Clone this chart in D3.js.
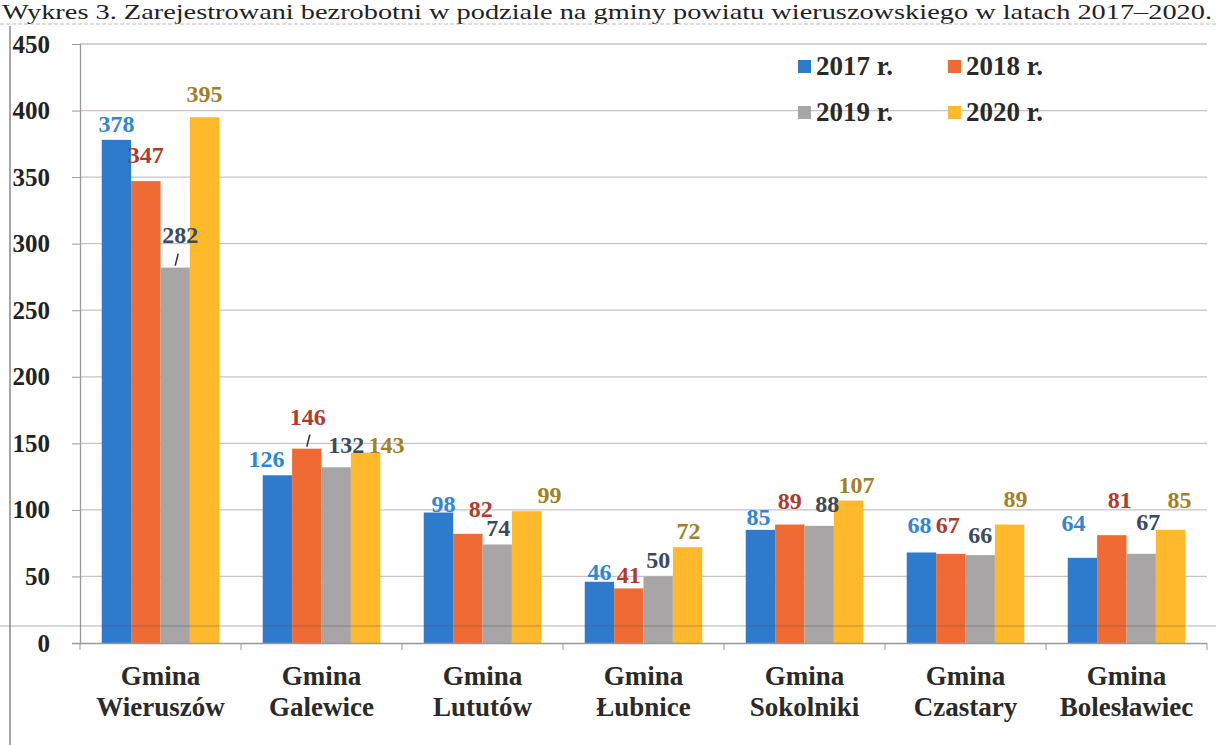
<!DOCTYPE html>
<html>
<head>
<meta charset="utf-8">
<script src="https://cdn.jsdelivr.net/npm/d3@7"></script>
<style>
  body { margin: 0; background: #fff; }
  svg { display: block; font-family: "Liberation Serif", "DejaVu Serif", serif; }
</style>
</head>
<body>
<div id="chart"></div>
<script>
const gminy = ["Gmina|Wieruszów", "Gmina|Galewice", "Gmina|Lututów", "Gmina|Łubnice",
               "Gmina|Sokolniki", "Gmina|Czastary", "Gmina|Bolesławiec"]
const years = ["2017 r.", "2018 r.", "2019 r.", "2020 r."]
const v2017 = [378, 126, 98, 46, 85, 68, 64]
const v2018 = [347, 146, 82, 41, 89, 67, 81]
const v2019 = [282, 132, 74, 50, 88, 66, 67]
const v2020 = [395, 143, 99, 72, 107, 89, 85]
const yTicks = [0, 50, 100, 150, 200, 250, 300, 350, 400, 450]

const BAR_COLORS = ["#2e7bce", "#ef6b33", "#a7a5a6", "#ffb92a"]
const LABEL_COLORS = ["#2f86d8", "#b3392d", "#3a4a60", "#a37f28"]

// label nudges [dx, dy] per series/category, so labels sit like in the original
const nudge = [
  [[0,0],[-11,0],[5,7],[0,6],[-2,3],[-2,-11],[-9,-19]],
  [[0,-10],[1,-16],[13,-9],[0,3],[0,-8],[-3,-13],[8,-19]],
  [[5,-17],[10,-6],[1,0],[0,0],[8,-6],[0,-4],[7,-16]],
  [[0,-7],[21,8],[23,0],[1,0],[8,0],[6,-10],[9,-14]]
]
const leaders = [[2,0],[1,1]] // [series, category] with a small leader line

const W = 1216, H = 745
const svg = d3.select("#chart").append("svg").attr("width", W).attr("height", H)

const series = [v2017, v2018, v2019, v2020]
const x0 = d3.scaleBand().domain(gminy).range([80, 1207]).paddingInner(0.27).paddingOuter(0.135)
const x1 = d3.scaleBand().domain(d3.range(4)).range([0, x0.bandwidth()])
const y = d3.scaleLinear().domain([0, 450]).range([643, 44])

// title
svg.append("text").attr("x", 2).attr("y", 19).attr("font-size", 22)
  .attr("textLength", 1210).attr("lengthAdjust", "spacingAndGlyphs").attr("fill", "#222")
  .text("Wykres 3. Zarejestrowani bezrobotni w podziale na gminy powiatu wieruszowskiego w latach 2017–2020.")
svg.append("line").attr("x1", 0).attr("x2", W).attr("y1", 24).attr("y2", 24)
  .attr("stroke", "#c8b8bc").attr("stroke-dasharray", "4,2").attr("stroke-width", 1)
svg.append("line").attr("x1", 10).attr("x2", 10).attr("y1", 26).attr("y2", H)
  .attr("stroke", "#8a8a8a").attr("stroke-width", 1.5)

// gridlines
svg.append("g").selectAll("line").data(yTicks.slice(1)).join("line")
  .attr("x1", 80).attr("x2", 1207).attr("y1", d => y(d)).attr("y2", d => y(d))
  .attr("stroke", "#c9c2c8").attr("stroke-width", 1.3)

// y axis
const yAxis = svg.append("g").attr("transform", "translate(80,0)")
  .call(d3.axisLeft(y).tickValues(yTicks).tickSize(8).tickPadding(22))
yAxis.select(".domain").attr("stroke", "#999").attr("stroke-width", 1.3)
yAxis.selectAll(".tick line").attr("stroke", "#999")
yAxis.selectAll("text").attr("font-size", 25).attr("font-weight", "bold")
  .attr("fill", "#222").attr("font-family", "Liberation Serif")
yAxis.select(".domain").attr("d", "M-8,643.5H0.5V44")

// bars
const groups = svg.append("g").selectAll("g").data(gminy).join("g")
  .attr("transform", d => `translate(${x0(d)},0)`)
groups.selectAll("rect").data((d, i) => series.map((s, k) => ({k, i, v: s[i]}))).join("rect")
  .attr("x", d => x1(d.k)).attr("width", x1.bandwidth())
  .attr("y", d => y(d.v)).attr("height", d => y(0) - y(d.v))
  .attr("fill", d => BAR_COLORS[d.k])

// x axis line + ticks at band edges
svg.append("line").attr("x1", 80).attr("x2", 1207).attr("y1", 643.5).attr("y2", 643.5)
  .attr("stroke", "#999").attr("stroke-width", 1.3)
svg.append("g").selectAll("line").data(d3.range(8)).join("line")
  .attr("x1", d => 80 + d * x0.step()).attr("x2", d => 80 + d * x0.step())
  .attr("y1", 643).attr("y2", 650).attr("stroke", "#999")

// category labels
svg.append("g").selectAll("text").data(gminy).join("text")
  .attr("x", d => x0(d) + x0.bandwidth() / 2).attr("y", 685)
  .attr("text-anchor", "middle").attr("font-size", 27).attr("font-weight", "bold").attr("fill", "#2a2a2a")
  .each(function(d) {
    const parts = d.split("|")
    d3.select(this).selectAll("tspan").data(parts).join("tspan")
      .attr("x", x0(d) + x0.bandwidth() / 2).attr("dy", (p, j) => j ? 31 : 0).text(p => p)
  })

// value labels
const labels = []
series.forEach((s, k) => s.forEach((v, i) => labels.push({k, i, v})))
svg.append("g").selectAll("text").data(labels).join("text")
  .attr("x", d => x0(gminy[d.i]) + x1(d.k) + x1.bandwidth() / 2 + nudge[d.k][d.i][0])
  .attr("y", d => y(d.v) - 8 + nudge[d.k][d.i][1])
  .attr("text-anchor", "middle").attr("font-size", 24).attr("font-weight", "bold")
  .attr("fill", d => LABEL_COLORS[d.k]).text(d => d.v)

svg.append("g").selectAll("line").data(leaders).join("line")
  .attr("x1", d => x0(gminy[d[1]]) + x1(d[0]) + x1.bandwidth() / 2 + 3)
  .attr("x2", d => x0(gminy[d[1]]) + x1(d[0]) + x1.bandwidth() / 2)
  .attr("y1", d => y(series[d[0]][d[1]]) - 14)
  .attr("y2", d => y(series[d[0]][d[1]]) - 2)
  .attr("stroke", "#333").attr("stroke-width", 1.5)

// legend
const legPos = [[798, 66], [948, 66], [798, 112], [948, 112]]
const leg = svg.append("g").selectAll("g").data(years).join("g")
  .attr("transform", (d, i) => `translate(${legPos[i][0]},${legPos[i][1]})`)
leg.append("rect").attr("x", 0).attr("y", -6).attr("width", 13).attr("height", 13)
  .attr("fill", (d, i) => BAR_COLORS[i])
leg.append("text").attr("x", 18).attr("y", 9).attr("font-size", 27).attr("font-weight", "bold")
  .attr("fill", "#2a2a2a").text(d => d)

// scan line artefact across the plot
svg.append("line").attr("x1", 0).attr("x2", W).attr("y1", 626).attr("y2", 626)
  .attr("stroke", "#555").attr("stroke-opacity", 0.45).attr("stroke-width", 1.2)
</script>
</body>
</html>
